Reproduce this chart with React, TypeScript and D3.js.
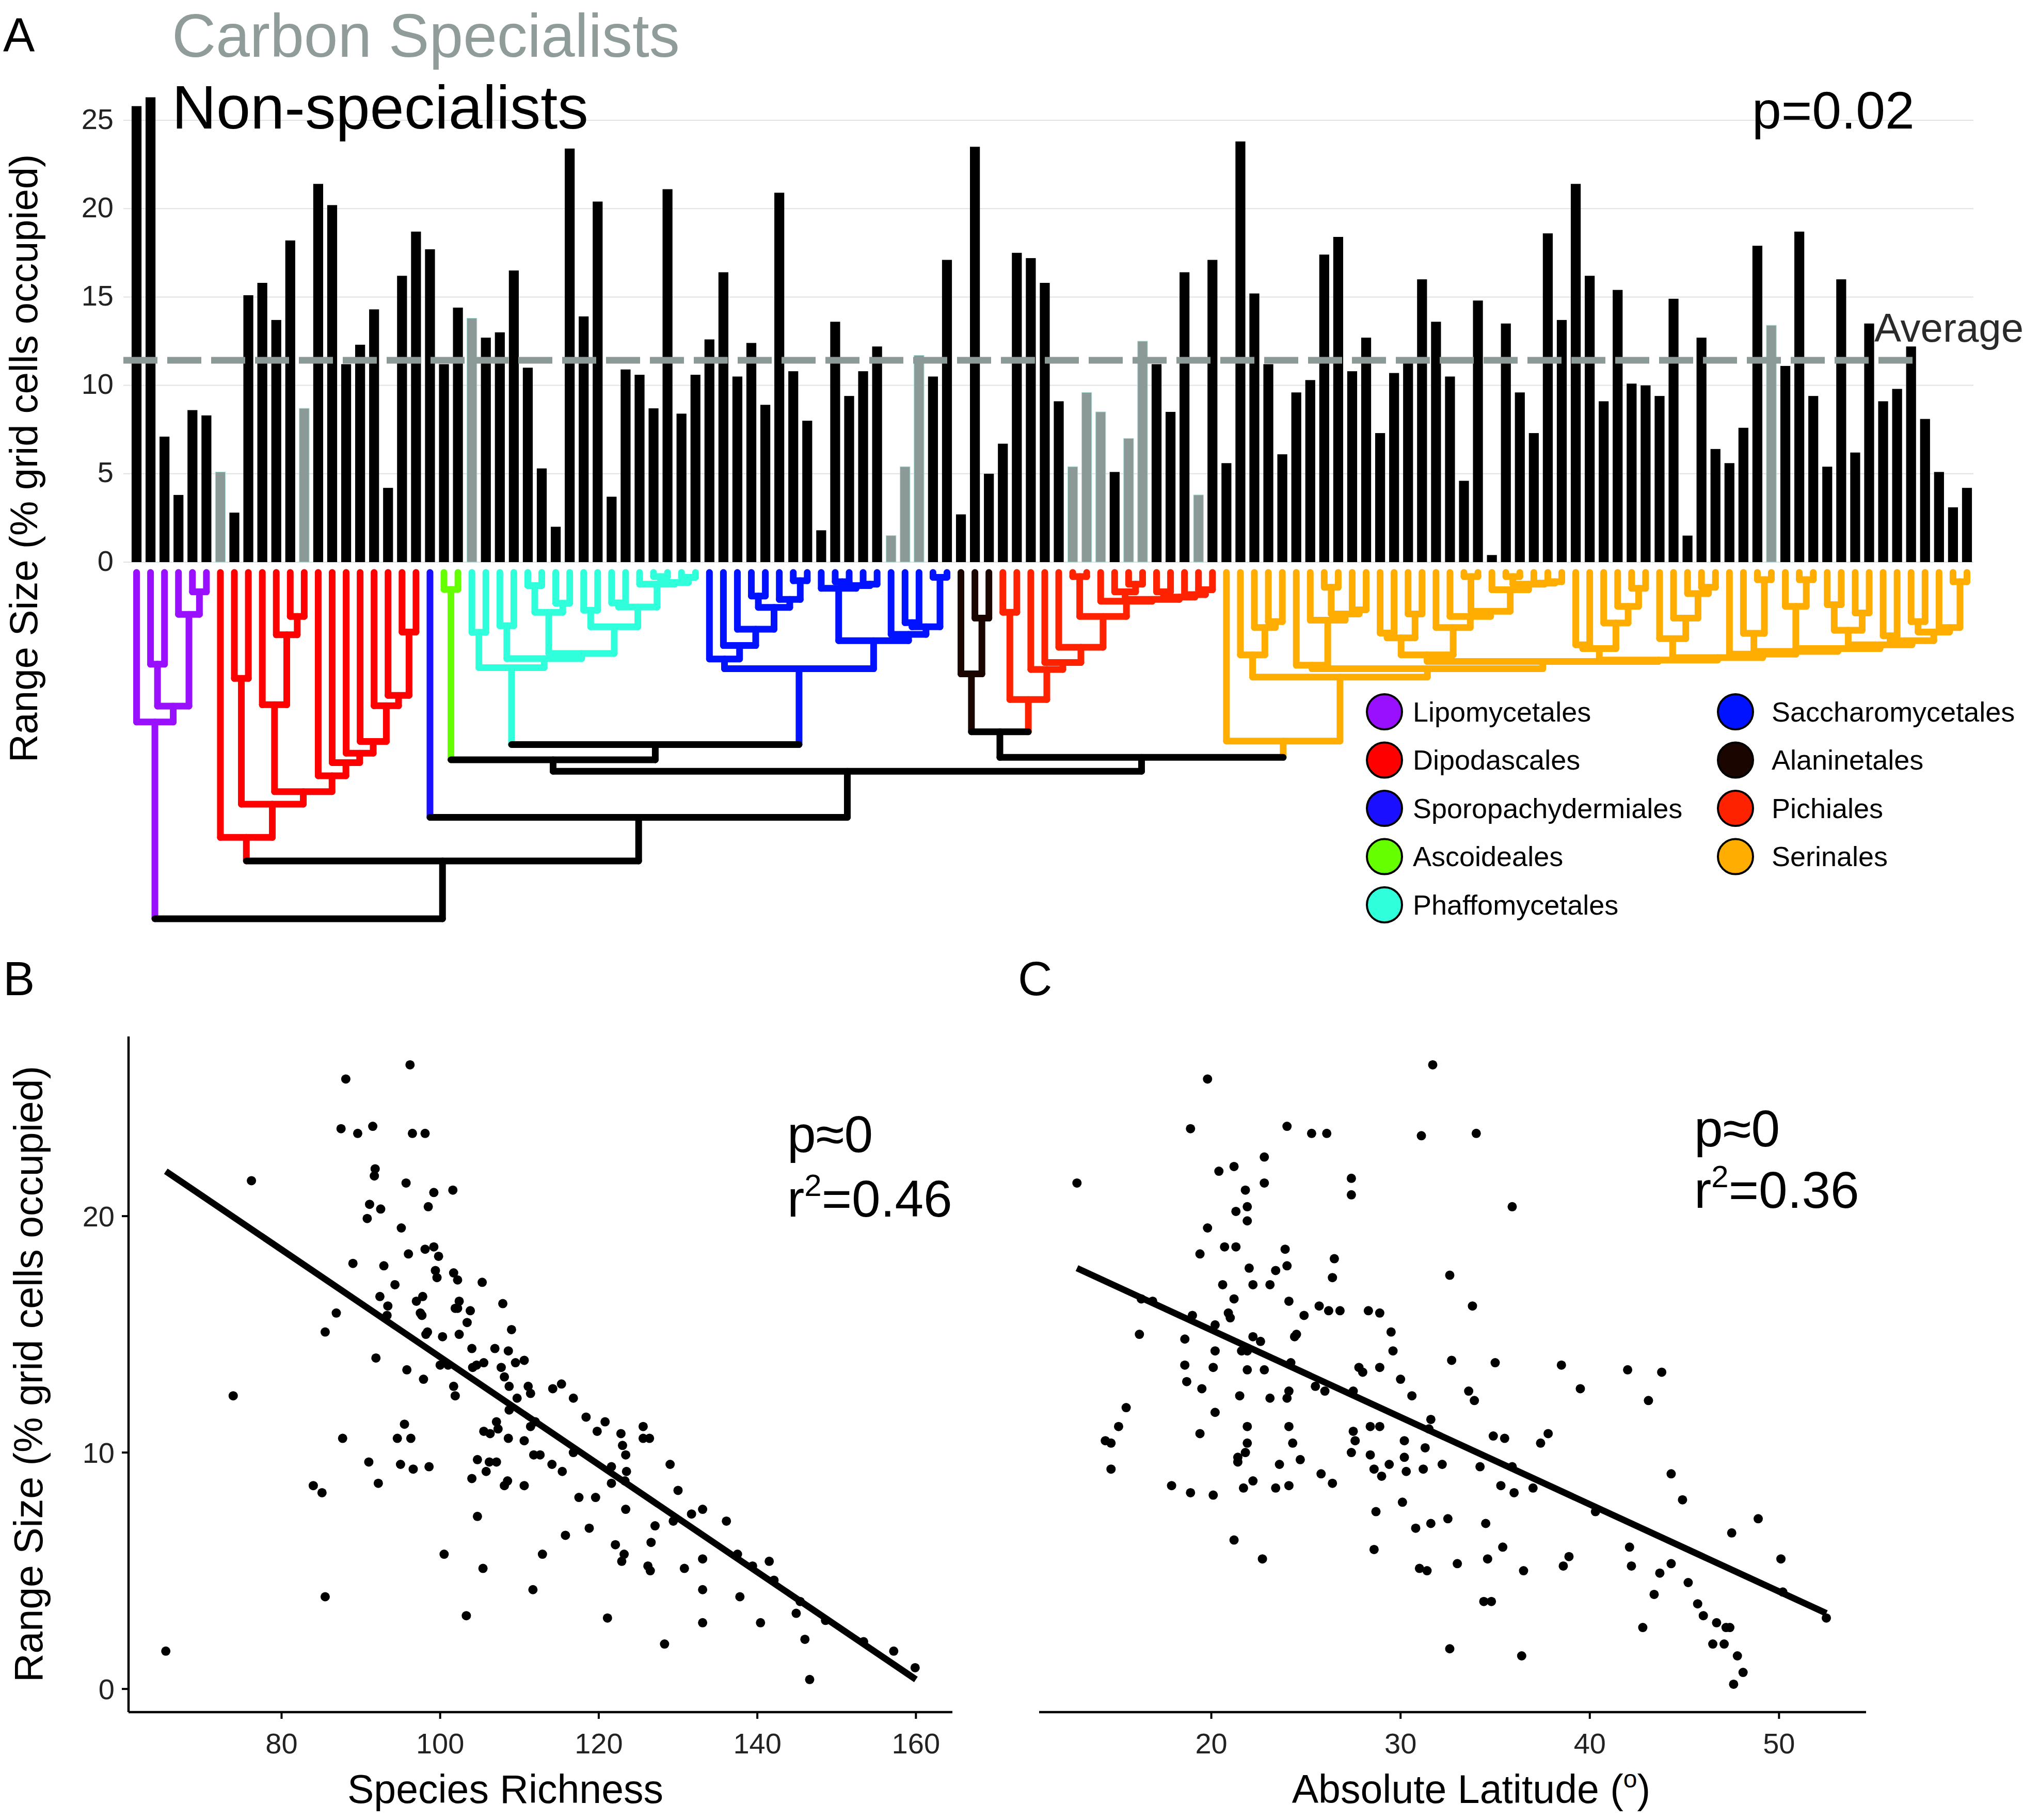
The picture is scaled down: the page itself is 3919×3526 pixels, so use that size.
import React from "react";
import * as d3 from "d3";

const FONT = "'Liberation Sans', Arial, Helvetica, sans-serif";
const W = 3919;
const H = 3526;

// range size (% grid cells occupied) for each species, in tree order
const rangeSize = [
  25.8, 26.3, 7.1, 3.8, 8.6, 8.3, 5.1, 2.8, 15.1, 15.8, 13.7, 18.2, 8.7, 21.4, 20.2, 11.2, 12.3, 14.3, 4.2, 16.2,
  18.7, 17.7, 11.2, 14.4, 13.8, 12.7, 13.0, 16.5, 11.0, 5.3, 2.0, 23.4, 13.9, 20.4, 3.7, 10.9, 10.6, 8.7, 21.1, 8.4,
  10.6, 12.6, 16.4, 10.5, 12.4, 8.9, 20.9, 10.8, 8.0, 1.8, 13.6, 9.4, 10.8, 12.2, 1.5, 5.4, 11.7, 10.5, 17.1, 2.7,
  23.5, 5.0, 6.7, 17.5, 17.2, 15.8, 9.1, 5.4, 9.6, 8.5, 5.1, 7.0, 12.5, 11.2, 8.5, 16.4, 3.8, 17.1, 5.6, 23.8,
  15.2, 11.2, 6.1, 9.6, 10.3, 17.4, 18.4, 10.8, 12.7, 7.3, 10.7, 11.3, 16.0, 13.6, 10.5, 4.6, 14.8, 0.4, 13.5, 9.6,
  7.3, 18.6, 13.7, 21.4, 16.2, 9.1, 15.4, 10.1, 10.0, 9.4, 14.9, 1.5, 12.7, 6.4, 5.6, 7.6, 17.9, 13.4, 11.1, 18.7,
  9.4, 5.4, 16.0, 6.2, 13.5, 9.1, 9.8, 12.2, 8.1, 5.1, 3.1, 4.2,
];
// tips (1-based) that are carbon specialists
const carbonSpecialists = [7, 13, 25, 55, 56, 57, 68, 69, 70, 72, 73, 77, 118];
const averageRange = 11.42;
const barTicks = [0, 5, 10, 15, 20, 25];

const orderNames = [
  "Lipomycetales", "Dipodascales", "Sporopachydermiales", "Ascoideales", "Phaffomycetales",
  "Saccharomycetales", "Alaninetales", "Pichiales", "Serinales",
];
const orderColors = ["#9910ff", "#ff0000", "#1a10ff", "#66ff00", "#30ffdc", "#0012ff", "#1a0500", "#ff2200", "#ffad00"];
const orderFirstTip = [1, 7, 22, 23, 25, 42, 60, 63, 79];

// tree nodes: [depth (0 = tips, 100 = root), ...children]; leaves are tip numbers
const lipomycetales = [43.2, 1, [38.6, [26.5, 2, 3], [12.1, 4, [5.6, 5, 6]]]];
const dipodascales = [76.5, 7, [66.9, [30.6, 8, 9], [63.3, [38.2, 10, [18.0, 11, [12.7, 12, 13]]],
  [58.7, 14, [54.9, 15, [52.2, 16, [48.8, 17, [38.5, 18, [35.5, 19, [17.2, 20, 21]]]]]]]]]];
const ascoideales = [4.9, 23, 24];
const phaffomycetales = [27.5, [17.3, 25, 26], [24.9, [15.4, 27, 28], [23.4, [11.5, [3.8, 29, 30], [8.9, 31, 32]],
  [15.7, [10.9, 33, 34], [10.0, [8.8, 35, 36], [3.4, 37, [2.9, [1.2, 38, 39], [1.4, 40, 41]]]]]]]];
const saccharomycetales = [27.8, [25.0, 42, [21.1, 43, [16.4, 44, [10.1, [6.8, 45, 46], [7.8, 47, [2.4, 48, 49]]]]]],
  [19.7, [4.6, 50, [3.8, [2.7, 51, 52], [3.4, 53, 54]]], [17.9, 55, [15.7, [14.5, 56, 57], [1.4, 58, 59]]]]];
const alaninetales = [29.3, 60, [13.2, 61, 62]];
const pichiales = [36.7, [11.5, 63, 64], [28.0, 65, [26.0, 66, [21.6, 67, [12.7, [1.2, 68, 69],
  [8.3, 70, [7.8, [5.6, 71, [3.4, 72, 73]], [7.1, [5.6, 74, 75], [6.4, 76, [5.0, 77, 78]]]]]]]]]];
const serinales = [48.7, 79, [30.2,
  [23.8, 80, [15.9, 81, [14.2, 82, 83]]],
  [27.8,
    [26.8, 84, [13.8, 85, [12.0, [4.3, 86, 87], [10.8, 88, 89]]]],
    [25.7,
      [23.8, [18.9, [17.5, 90, 91], [12.0, 92, 93]],
        [15.9, 94, [12.7, 95, [11.2, [1.2, 96, 97], [5.0, 98, [3.4, [1.2, 99, 100], [3.1, 101, [2.7, 102, 103]]]]]]]],
      [25.3,
        [22.0, [20.9, 104, 105], [14.6, 106, [9.8, 107, [4.6, 108, 109]]]],
        [24.6,
          [19.1, 110, [13.2, 111, [6.1, 112, [4.3, 113, 114]]]],
          [23.6, 115,
            [22.8, [17.6, 116, [2.1, 117, 118]],
              [22.0, [9.8, 119, [2.1, 120, 121]],
                [20.9, [16.7, [9.3, 122, 123], [11.7, 124, 125]],
                  [19.7, [18.3, 126, 127], [17.2, [14.2, 128, 129], [15.9, 130, [2.7, 131, 132]]]]]]]]]]]]]];
const tree = [100, lipomycetales, [83.3, dipodascales, [70.7, 22, [57.4,
  [54.1, ascoideales, [49.7, phaffomycetales, saccharomycetales]],
  [53.4, [46.0, alaninetales, pichiales], serinales]]]]];

// panel B / C: range size vs species richness and absolute latitude
const pointsB = [
  [65.4, 1.6], [73.9, 12.4], [76.2, 21.5], [84.0, 8.6], [85.1, 8.3], [85.5, 15.1], [85.5, 3.9], [86.9, 15.9], [87.5, 23.7], [88.1, 25.8],
  [87.7, 10.6], [89.0, 18.0], [89.6, 23.5], [90.8, 19.9], [91.1, 20.5], [91.0, 9.6], [91.5, 23.8], [91.8, 22.0], [91.7, 21.7], [91.9, 14.0],
  [92.2, 8.7], [92.4, 16.6], [92.5, 20.3], [92.9, 17.9], [93.4, 16.2], [93.3, 15.8], [94.3, 17.1], [94.6, 10.6], [95.0, 9.5], [95.1, 19.5],
  [95.5, 11.2], [95.7, 21.4], [95.8, 13.5], [96.0, 18.4], [96.2, 26.4], [96.3, 10.6], [96.5, 23.5], [96.6, 9.3], [97.0, 16.4], [97.5, 15.9],
  [97.7, 15.8], [97.8, 16.6], [97.9, 13.1], [98.1, 23.5], [98.1, 18.6], [98.2, 15.0], [98.4, 15.1], [98.5, 20.4], [98.6, 9.4], [99.2, 18.7],
  [99.2, 21.0], [99.4, 17.7], [99.6, 17.4], [99.8, 18.3], [100.0, 13.7], [100.3, 14.9], [100.5, 5.7], [101.0, 13.7], [101.6, 21.1], [101.7, 17.6],
  [101.7, 12.8], [101.9, 12.4], [101.9, 16.1], [102.2, 17.3], [102.2, 16.1], [102.4, 16.4], [102.4, 15.0], [103.4, 15.5], [103.3, 3.1], [103.8, 16.0],
  [104.0, 14.4], [104.0, 8.9], [104.1, 13.6], [104.6, 13.7], [104.7, 7.3], [104.7, 9.7], [105.3, 17.2], [105.4, 5.1], [105.5, 10.9], [105.5, 13.8],
  [105.8, 9.2], [106.2, 9.6], [106.3, 10.8], [106.9, 14.4], [107.1, 9.6], [107.1, 11.3], [107.3, 11.0], [107.7, 13.6], [107.9, 16.3], [108.1, 13.2],
  [108.1, 8.6], [108.5, 8.8], [108.6, 14.3], [108.6, 10.6], [108.7, 12.8], [108.7, 11.8], [109.0, 15.2], [109.5, 13.8], [109.7, 12.3], [110.6, 13.9],
  [110.6, 10.5], [110.6, 8.6], [111.1, 12.8], [111.4, 12.5], [111.4, 11.1], [111.7, 4.2], [111.8, 9.9], [112.0, 11.3], [112.6, 9.9], [112.9, 5.7],
  [114.2, 12.7], [114.1, 9.5], [115.3, 12.9], [115.4, 9.2], [115.8, 6.5], [116.8, 12.3], [116.8, 10.0], [117.5, 8.1], [118.4, 11.5], [118.8, 6.8],
  [119.6, 8.1], [119.8, 10.9], [120.8, 11.3], [121.1, 3.0], [121.6, 9.4], [121.6, 8.7], [122.1, 6.1], [122.8, 10.8], [122.9, 5.4], [123.0, 10.3],
  [123.2, 5.7], [123.3, 8.8], [123.4, 9.9], [123.4, 7.6], [123.5, 9.2], [125.6, 11.1], [125.6, 10.6], [126.4, 10.6], [126.2, 5.2], [126.6, 6.2],
  [126.5, 5.0], [127.1, 6.9], [128.3, 1.9], [129.0, 9.5], [129.4, 7.1], [130.0, 8.4], [130.8, 5.1], [131.7, 7.4], [133.1, 7.6], [133.1, 5.5],
  [133.1, 4.2], [133.1, 2.8], [136.1, 7.1], [137.5, 5.7], [137.8, 3.9], [139.4, 5.2], [140.4, 2.8], [141.5, 5.4], [142.1, 4.6], [144.9, 3.2],
  [145.4, 3.7], [146.0, 2.1], [146.6, 0.4], [148.6, 2.9], [153.4, 2.0], [157.2, 1.6], [159.9, 0.9],
];
const pointsC = [
  [12.9, 21.4], [14.4, 10.5], [14.7, 10.4], [14.7, 9.3], [15.1, 11.1], [15.5, 11.9], [16.2, 15.0], [16.3, 16.5], [16.9, 16.4], [17.9, 8.6],
  [18.6, 14.8], [18.6, 13.7], [18.7, 13.0], [18.9, 23.7], [18.9, 8.3], [19.0, 15.8], [19.4, 10.8], [19.4, 18.4], [19.5, 12.7], [19.8, 25.8],
  [19.8, 19.5], [20.1, 13.6], [20.1, 8.2], [20.2, 14.3], [20.2, 15.4], [20.2, 11.7], [20.4, 21.9], [20.6, 17.1], [20.7, 18.7], [20.9, 15.9],
  [21.0, 15.7], [21.2, 16.5], [21.2, 22.1], [21.2, 6.3], [21.3, 20.2], [21.3, 18.7], [21.4, 9.8], [21.4, 9.6], [21.5, 12.4], [21.6, 14.3],
  [21.7, 8.5], [21.8, 21.1], [21.8, 10.0], [21.9, 10.4], [21.9, 13.5], [21.9, 14.3], [21.9, 11.1], [21.9, 19.8], [21.9, 20.4], [22.0, 17.8],
  [22.2, 8.8], [22.2, 17.1], [22.2, 14.9], [22.6, 14.7], [22.7, 5.5], [22.8, 13.5], [22.8, 22.5], [22.8, 21.4], [23.1, 17.1], [23.1, 12.3],
  [23.4, 17.7], [23.4, 8.5], [23.6, 9.5], [24.0, 12.3], [24.0, 23.8], [24.0, 17.9], [23.9, 18.6], [24.1, 8.6], [24.1, 11.1], [24.1, 12.6],
  [24.1, 16.4], [24.2, 13.8], [24.3, 10.4], [24.4, 14.9], [24.5, 15.0], [24.7, 9.7], [24.9, 15.8], [25.3, 23.5], [25.5, 12.8], [25.7, 16.2],
  [25.8, 9.1], [26.0, 12.6], [26.1, 23.5], [26.2, 16.0], [26.4, 8.7], [26.4, 17.4], [26.5, 18.2], [26.8, 16.0], [27.4, 21.6], [27.4, 20.9],
  [27.5, 10.9], [27.4, 10.0], [27.5, 12.6], [27.6, 10.5], [27.8, 13.6], [28.0, 13.4], [28.3, 16.0], [28.4, 9.9], [28.4, 11.1], [28.6, 9.3],
  [28.6, 5.9], [28.7, 7.5], [28.9, 15.9], [28.9, 11.1], [28.9, 13.6], [29.0, 9.0], [29.4, 9.5], [29.5, 15.1], [29.6, 14.3], [30.0, 13.1],
  [30.1, 7.9], [30.2, 10.5], [30.2, 9.8], [30.3, 9.2], [30.6, 12.4], [30.8, 6.8], [31.0, 5.1], [31.1, 23.4], [31.2, 9.3], [31.3, 10.2],
  [31.4, 5.0], [31.5, 11.0], [31.6, 11.4], [31.7, 26.4], [31.6, 7.0], [32.2, 9.5], [32.6, 1.7], [32.5, 7.2], [32.6, 17.5], [32.7, 13.9],
  [33.0, 5.3], [33.6, 12.6], [33.8, 16.2], [33.9, 12.2], [34.0, 23.5], [34.2, 9.4], [34.4, 3.7], [34.5, 7.0], [34.6, 5.5], [34.8, 3.7],
  [34.9, 10.7], [35.0, 13.8], [35.3, 8.6], [35.4, 6.0], [35.5, 10.6], [35.9, 20.4], [35.9, 9.4], [36.0, 8.3], [36.4, 1.4], [36.5, 5.0],
  [37.0, 8.5], [37.4, 10.4], [37.8, 10.8], [38.5, 13.7], [38.6, 5.2], [38.9, 5.6], [39.5, 12.7], [40.3, 7.5], [42.0, 13.5], [42.1, 6.0],
  [42.2, 5.2], [42.8, 2.6], [43.1, 12.2], [43.4, 4.0], [43.7, 4.9], [43.8, 13.4], [44.3, 9.1], [44.3, 5.3], [44.9, 8.0], [45.2, 4.5],
  [45.7, 3.6], [46.0, 3.1], [46.5, 1.9], [46.7, 2.8], [47.1, 1.9], [47.2, 2.6], [47.4, 2.6], [47.5, 6.6], [47.6, 0.2], [47.8, 1.4],
  [48.1, 0.7], [48.9, 7.2], [50.1, 5.5], [50.2, 4.1], [52.5, 3.0],
];
const fitB = [[65.4, 21.9], [160, 0.4]];
const fitC = [[12.9, 17.8], [52.5, 3.2]];
const richnessTicks = [80, 100, 120, 140, 160];
const latitudeTicks = [20, 30, 40, 50];
const scatterYTicks = [0, 10, 20];

// ---- scales
const barX = d3.scaleBand<number>().domain(d3.range(1, rangeSize.length + 1)).range([251, 3824]).paddingInner(0.29).paddingOuter(0.145);
const barY = d3.scaleLinear().domain([0, 25]).range([1089, 233]);
const treeY = d3.scaleLinear().domain([0, 100]).range([1109, 1780]);
const sxB = d3.scaleLinear().domain([60.7, 164.6]).range([249, 1845]);
const sxC = d3.scaleLinear().domain([10.9, 54.6]).range([2013, 3615]);
const sy = d3.scaleLinear().domain([-0.98, 27.6]).range([3317, 2008]);

const tipX = (i: number) => (barX(i) as number) + barX.bandwidth() / 2;
const orderOf = (tip: number) => d3.bisectRight(orderFirstTip, tip) - 1;
const colorOf = (o: number) => (o < 0 ? "#000000" : orderColors[o]);

// ---- tree segments
const verticals: any[] = [];
const horizontals: any[] = [];
function walk(node: any): { x: number; depth: number; order: number } {
  if (typeof node === "number") return { x: tipX(node), depth: 0, order: orderOf(node) };
  const [depth, ...kids] = node;
  const res = kids.map(walk);
  const order = res.every((r) => r.order === res[0].order) ? res[0].order : -1;
  const xs = res.map((r) => r.x);
  const x0 = d3.min(xs) as number;
  const x1 = d3.max(xs) as number;
  res.forEach((r) => verticals.push({ x: r.x, y1: treeY(r.depth), y2: treeY(depth), color: colorOf(r.order) }));
  horizontals.push({ x1: x0, x2: x1, y: treeY(depth), color: colorOf(order) });
  return { x: (x0 + x1) / 2, depth, order };
}
walk(tree);

const fitLine = d3.line<number[]>();

const Scatter = ({ points, fit, sx, ticks }: any) => (
  <g>
    {points.map((p: number[], i: number) => (
      <circle key={i} cx={sx(p[0])} cy={sy(p[1])} r={9} fill="#000" />
    ))}
    <path d={fitLine(fit.map((p: number[]) => [sx(p[0]), sy(p[1])])) as string} stroke="#000" strokeWidth={12.5} fill="none" />
    <line x1={sx.range()[0]} x2={sx.range()[1]} y1={3317} y2={3317} stroke="#000" strokeWidth={4.5} />
    {ticks.map((t: number) => (
      <g key={t}>
        <line x1={sx(t)} x2={sx(t)} y1={3317} y2={3330} stroke="#000" strokeWidth={4} />
        <text x={sx(t)} y={3397} textAnchor="middle" fontSize={56} fill="#222">{t}</text>
      </g>
    ))}
  </g>
);

const App = () => {
  const legendCols = [0, 0, 0, 0, 0, 1, 1, 1, 1];
  const legendRows = [0, 1, 2, 3, 4, 0, 1, 2, 3];
  const legendCx = [2682, 3362];
  const legendTx = [2737, 3432];
  return (
    <svg width={W} height={H} style={{ position: "absolute", left: 0, top: 0, background: "#fff" }} fontFamily={FONT}>
      <rect width={W} height={H} fill="#fff" />
      {/* panel A */}
      <text x={6} y={100} fontSize={92}>A</text>
      {barTicks.map((t) => (
        <g key={t}>
          <line x1={239} x2={3823} y1={barY(t)} y2={barY(t)} stroke="#dde3e2" strokeWidth={2} />
          <text x={220} y={barY(t) - 3} dy="0.35em" textAnchor="end" fontSize={56} fill="#222">{t}</text>
        </g>
      ))}
      <text transform="translate(72,888) rotate(-90)" textAnchor="middle" fontSize={76}>Range Size (% grid cells occupied)</text>
      {rangeSize.map((v, i) => {
        const carbon = carbonSpecialists.includes(i + 1);
        return (
          <rect key={i} x={barX(i + 1)} width={barX.bandwidth()} y={barY(v)} height={barY(0) - barY(v)}
            fill={carbon ? "#8b9a97" : "#000"} stroke={carbon ? "#a6ddd7" : "none"} strokeWidth={1} />
        );
      })}
      <line x1={239} x2={3714} y1={barY(averageRange)} y2={barY(averageRange)} stroke="#8b9a97" strokeWidth={13} strokeDasharray="66 19" />
      <text x={3631} y={662} fontSize={78} fill="#2a2a2a">Average</text>
      <text x={333} y={110} fontSize={118} fill="#8f9c9a">Carbon Specialists</text>
      <text x={333} y={249} fontSize={119} fill="#000">Non-specialists</text>
      <text x={3394} y={249} fontSize={102} fill="#000">p=0.02</text>

      {/* tree */}
      <g strokeWidth={13} strokeLinecap="round" fill="none">
        {verticals.map((s, i) => (
          <line key={"v" + i} x1={s.x} x2={s.x} y1={s.y1} y2={s.y2} stroke={s.color} />
        ))}
        {horizontals.map((s, i) => (
          <line key={"h" + i} x1={s.x1} x2={s.x2} y1={s.y} y2={s.y} stroke={s.color} />
        ))}
      </g>

      {/* legend */}
      {orderNames.map((name, i) => {
        const c = legendCols[i];
        const cy = 1379 + legendRows[i] * 93.5;
        return (
          <g key={name}>
            <circle cx={legendCx[c]} cy={cy} r={34} fill={orderColors[i]} stroke="#000" strokeWidth={4} />
            <text x={legendTx[c]} y={cy} dy="0.35em" fontSize={54}>{name}</text>
          </g>
        );
      })}

      {/* panel B */}
      <text x={6} y={1928} fontSize={92}>B</text>
      <text transform="translate(82,2662) rotate(-90)" textAnchor="middle" fontSize={77}>Range Size (% grid cells occupied)</text>
      <line x1={249} x2={249} y1={2008} y2={3317} stroke="#000" strokeWidth={4.5} />
      {scatterYTicks.map((t) => (
        <g key={t}>
          <line x1={236} x2={249} y1={sy(t)} y2={sy(t)} stroke="#000" strokeWidth={4} />
          <text x={222} y={sy(t)} dy="0.35em" textAnchor="end" fontSize={56} fill="#222">{t}</text>
        </g>
      ))}
      <Scatter points={pointsB} fit={fitB} sx={sxB} ticks={richnessTicks} />
      <text x={979} y={3493} textAnchor="middle" fontSize={77}>Species Richness</text>
      <text x={1525} y={2232} fontSize={100}>p≈0</text>
      <text x={1525} y={2357} fontSize={100}>
        r<tspan dy={-40} fontSize={60}>2</tspan><tspan dy={40}>=0.46</tspan>
      </text>

      {/* panel C */}
      <text x={1972} y={1928} fontSize={92}>C</text>
      <Scatter points={pointsC} fit={fitC} sx={sxC} ticks={latitudeTicks} />
      <text x={2850} y={3493} textAnchor="middle" fontSize={77}>
        Absolute Latitude (<tspan dy={-30} fontSize={48}>o</tspan><tspan dy={30}>)</tspan>
      </text>
      <text x={3282} y={2221} fontSize={100}>p≈0</text>
      <text x={3282} y={2340} fontSize={100}>
        r<tspan dy={-40} fontSize={60}>2</tspan><tspan dy={40}>=0.36</tspan>
      </text>
    </svg>
  );
};

export default App;
